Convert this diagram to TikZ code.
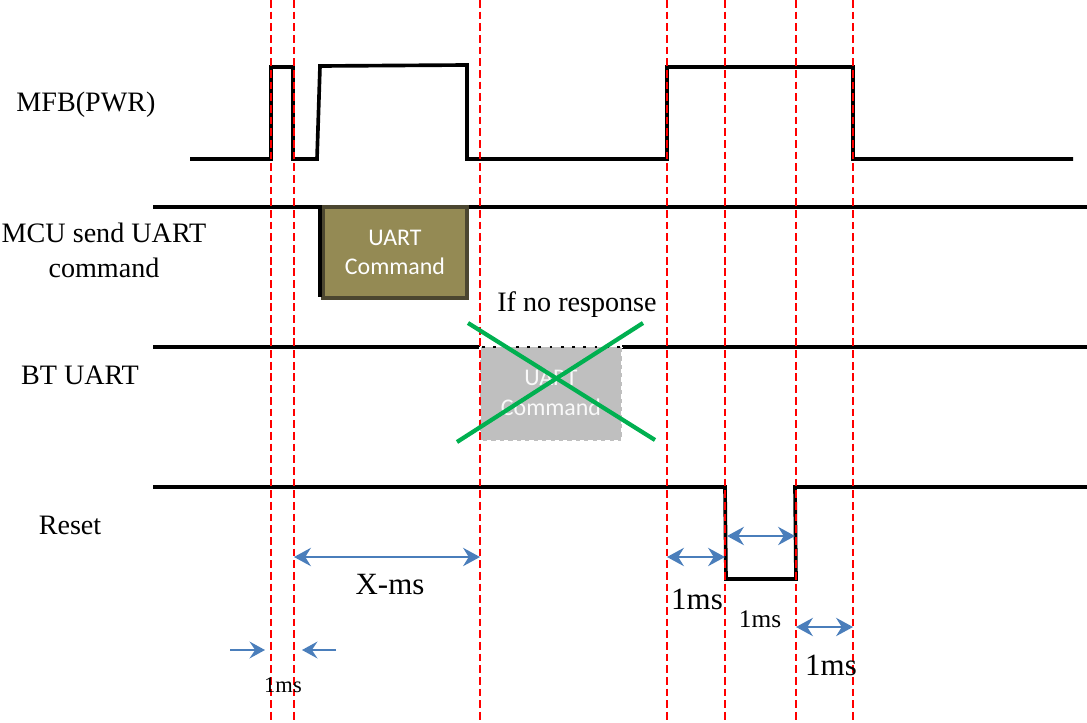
\documentclass[tikz,border=0pt]{standalone}
\usepackage{fontspec}
\setmainfont{Liberation Serif}
\newfontfamily\boxfont{Carlito}
\usetikzlibrary{arrows.meta}

\definecolor{olivebox}{HTML}{948A54}
\definecolor{oliveedge}{HTML}{4B4630}
\definecolor{dimblue}{HTML}{4A7EBB}
\definecolor{crossgreen}{HTML}{00B050}
\definecolor{ghostgray}{HTML}{BFBFBF}

\begin{document}
\begin{tikzpicture}[x=0.025cm, y=-0.025cm,
    signal/.style={line width=2.6pt, line join=miter},
    marker/.style={red, line width=1.1pt, dash pattern=on 5.5pt off 2.8pt},
    dim/.style={dimblue, line width=1.5pt,
        {Stealth[length=12pt,width=13pt,inset=4pt]}-{Stealth[length=12pt,width=13pt,inset=4pt]}},
    pointer/.style={dimblue, line width=1.5pt, -{Stealth[length=11pt,width=12pt,inset=4pt]}},
    lbl/.style={font=\fontsize{20}{25}\selectfont, align=center},
    msl/.style={font=\fontsize{22}{26}\selectfont},
]

    % Rahmen
    \useasboundingbox (0,0) rectangle (1087,723);

    % Parameter
    \def\lo{159}   % MFB low
    \def\hi{67}    % MFB high
    \def\ymcu{207}
    \def\ybt{347}
    \def\yrst{487}
    \def\yrlo{579}

    % Signalnamen
    \node[lbl] (mfb) at (86,105) {MFB(PWR)};
    \node[lbl] (mcu) at (104,250) {MCU send UART\\command};
    \node[lbl] (bt)  at (80,375) {BT UART};
    \node[lbl] (rst) at (70,525) {Reset};

    % MFB(PWR)
    \draw[signal] (190,\lo) -- (271,\lo) -- (271,\hi) -- (293,\hi) -- (293,\lo)
        -- (317,\lo) -- (320,66) -- (467,65) -- (467,\lo) -- (667,\lo)
        -- (667,\hi) -- (853,\hi) -- (853,\lo) -- (1073,\lo);

    % MCU send UART command
    \draw[signal] (153,\ymcu) -- (1087,\ymcu);
    \node[draw=oliveedge, fill=olivebox, line width=2.2pt, minimum width=144*0.025cm,
        minimum height=91*0.025cm, text=white, align=center,
        font=\boxfont\fontsize{17}{21}\selectfont] (cmd) at (395,252.5) {UART\\Command};
    \draw[signal] (cmd.north west) ++(-1.5,0) -- ++(0,92);

    % BT UART
    \draw[signal] (153,\ybt) -- (480,\ybt);
    \draw[signal] (622,\ybt) -- (1087,\ybt);
    \fill[ghostgray] (480,\ybt) rectangle (622,441);
    \node[text=white!95!gray, align=center, font=\boxfont\fontsize{17}{21}\selectfont]
        (lost) at (551,393) {UART\\Command};
    \draw[white, line width=1.4pt, dash pattern=on 3pt off 3pt]
        (480,\ybt) -- (480,441) -- (622,441) -- (622,\ybt);
    \draw[black, line width=1.4pt, dash pattern=on 2pt off 6pt] (482,\ybt) -- (622,\ybt);

    % Reset
    \draw[signal] (153,\yrst) -- (725,\yrst) -- (726,\yrlo) -- (796,\yrlo)
        -- (795,\yrst) -- (1087,\yrst);

    % Markierungen
    \foreach \t in {271,294,480,667,725,796,853}
        \draw[marker] (\t,0) -- (\t,723);

    % Kreuz
    \draw[crossgreen, line width=3pt] (468,323) -- (655,440);
    \draw[crossgreen, line width=3pt] (457,442) -- (643,323);
    \node[lbl] (nores) at (577,305) {If no response};

    % Zeitabstaende
    \coordinate (xa) at (294,557);
    \coordinate (xb) at (480,557);
    \draw[dim] (xa) -- (xb);
    \node[font=\fontsize{22}{26}\selectfont] (xms) at (390,585) {X-ms};

    \coordinate (ra) at (667,557);
    \coordinate (rb) at (725,557);
    \draw[dim] (ra) -- (rb);
    \node[msl] (ms1) at (697,599) {1ms};

    \coordinate (sa) at (727,536);
    \coordinate (sb) at (795,536);
    \draw[dim] (sa) -- (sb);
    \node[font=\fontsize{18}{22}\selectfont] (ms2) at (760,619) {1ms};

    \coordinate (ta) at (796,627);
    \coordinate (tb) at (853,627);
    \draw[dim] (ta) -- (tb);
    \node[msl] (ms3) at (831,665) {1ms};

    \coordinate (pa) at (230,650);
    \coordinate (pb) at (265,650);
    \coordinate (qa) at (336,650);
    \coordinate (qb) at (302,650);
    \draw[pointer] (pa) -- (pb);
    \draw[pointer] (qa) -- (qb);
    \node[font=\fontsize{16}{19}\selectfont] (ms0) at (283,685) {1ms};

\end{tikzpicture}
\end{document}
